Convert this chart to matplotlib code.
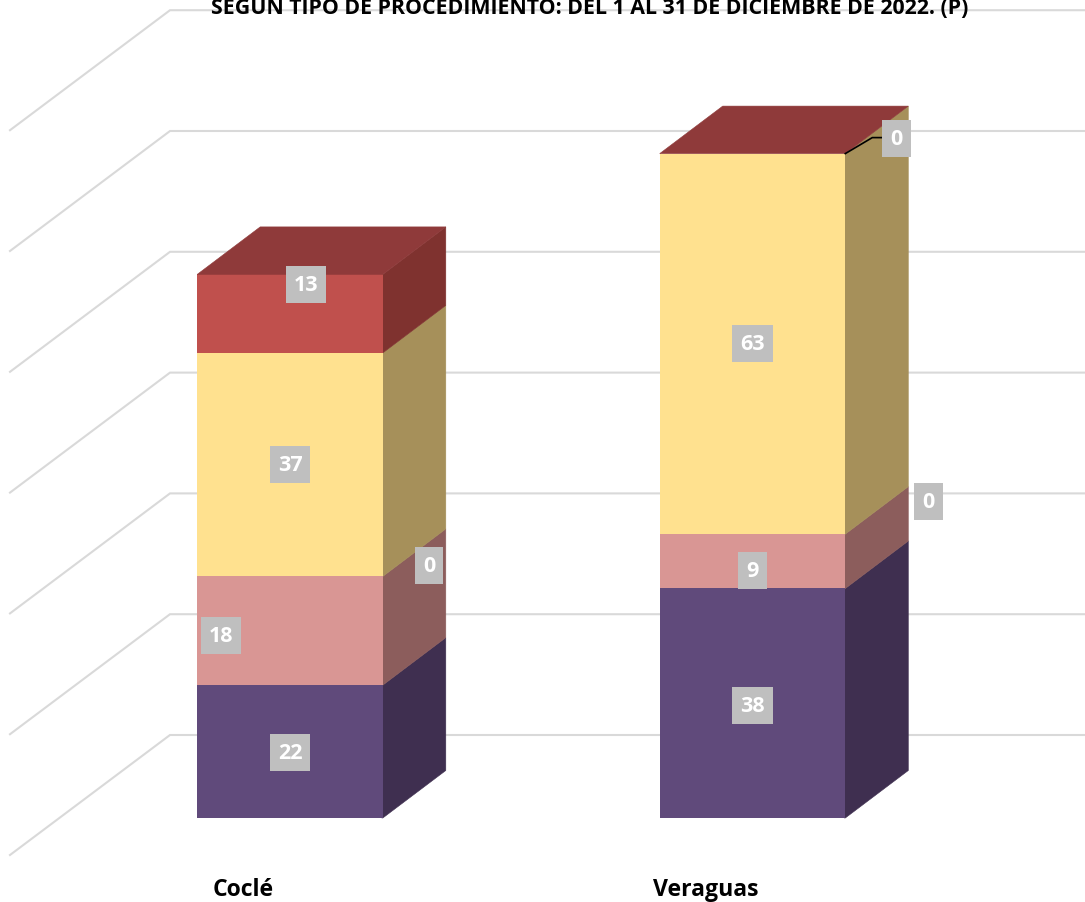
import numpy as np
import matplotlib
matplotlib.use('Agg')
import matplotlib.pyplot as plt

# Data
categories = ['Coclé', 'Veraguas']
serie_1 = [22, 38]
serie_2 = [18, 9]
serie_3 = [0, 0]
serie_4 = [37, 63]
serie_5 = [13, 0]
grid_values = [0, 20, 40, 60, 80, 100, 120]
title_text = 'SEGÚN TIPO DE PROCEDIMIENTO: DEL 1 AL 31 DE DICIEMBRE DE 2022. (P)'

series = [serie_1, serie_2, serie_3, serie_4, serie_5]
front_colors = ['#604A7B', '#D99694', '#D99694', '#FFE18F', '#C0504D']
side_colors = ['#3F2F50', '#8C5D5C', '#8C5D5C', '#A6905A', '#7F322F']
top_color = '#8F3A3A'

W, H = 1085, 903
PX_X = 462.5   # pixels per category step
PX_Y = 6.04    # pixels per value unit
X0 = 290       # pixel of first bar centre
Y0 = 819       # pixel of the value 0 on the front of the bars

BAR_W = 185.6 / PX_X
DEPTH_X = 63 / PX_X
DEPTH_Y = 47.5 / PX_Y

plt.rcParams['font.family'] = ['Open Sans', 'DejaVu Sans']

fig = plt.figure(figsize=(W / 100, H / 100), dpi=100)
ax = fig.add_axes([0, 0, 1, 1])
ax.set_xlim(-X0 / PX_X, (W - X0) / PX_X)
ax.set_ylim((Y0 - H) / PX_Y, Y0 / PX_Y)
ax.axis('off')

# Back wall and side wall grid lines
wall_y = (Y0 - 736) / PX_Y
wall_x = (170 - X0) / PX_X
slant_x = -160 / PX_X
slant_y = -120 / PX_Y
for g in grid_values:
    ax.plot([wall_x + slant_x, wall_x, ax.get_xlim()[1]],
            [g + wall_y + slant_y, g + wall_y, g + wall_y],
            color='#D9D9D9', lw=1.5, zorder=1, solid_joinstyle='miter')

# Stacked bars with fake 3D sides
x_pos = np.arange(len(categories))
bottom = np.zeros(len(categories))
for vals, fc, sc in zip(series, front_colors, side_colors):
    vals = np.array(vals, dtype=float)
    ax.bar(x_pos, vals, BAR_W, bottom=bottom, color=fc, linewidth=0, zorder=3)
    for x, b, v in zip(x_pos, bottom, vals):
        if v == 0:
            continue
        r = x + BAR_W / 2
        # inner edge sits under the front face so no seam shows
        ax.fill([r - 1 / PX_X, r, r + DEPTH_X, r + DEPTH_X, r, r - 1 / PX_X],
                [b, b, b + DEPTH_Y, b + v + DEPTH_Y, b + v, b + v],
                color=sc, lw=0.4, zorder=2)
    bottom = bottom + vals

# Top faces
for x, t in zip(x_pos, bottom):
    l, r = x - BAR_W / 2, x + BAR_W / 2
    ax.fill([l, r, r + DEPTH_X, l + DEPTH_X],
            [t, t, t + DEPTH_Y, t + DEPTH_Y],
            color=top_color, lw=0.4, zorder=4)

# Data labels: (bar, serie) -> offset in pixels from the centre of the segment
offsets = {
    (0, 0): (0, -1),
    (0, 1): (-69, -5),
    (0, 2): (139, 11),
    (0, 4): (16, 29),
    (1, 0): (0, -2),
    (1, 1): (0, -9),
    (1, 2): (176, 33),
    (1, 4): (144, 15),
}
bottom = np.zeros(len(categories))
for s, vals in enumerate(series):
    for c, v in enumerate(vals):
        if v == 0 and (c, s) not in offsets:
            continue
        mid = bottom[c] + v / 2
        ax.annotate(str(v), xy=(x_pos[c], mid), xytext=offsets.get((c, s), (0, 0)),
                    textcoords='offset pixels', ha='center', va='center',
                    color='white', fontsize=15.5, fontweight='bold', zorder=6,
                    bbox=dict(boxstyle='square,pad=0.37', fc='#BFBFBF', ec='none'))
    bottom = bottom + np.array(vals, dtype=float)

# Leader line for the top zero on Veraguas
r = x_pos[1] + BAR_W / 2
t = bottom[1]
ax.plot([r, r + 27 / PX_X, r + 38 / PX_X], [t, t + 16 / PX_Y, t + 16 / PX_Y],
        color='black', lw=1.2, zorder=5)

# Category labels
for x, name in zip(x_pos, categories):
    ax.text(x - 47 / PX_X, -71 / PX_Y, name, ha='center', va='center',
            fontsize=16.6, fontweight='bold', color='black', zorder=6)

# Title, cut by the top of the picture as in the reference
fig.text(589.5 / W, 1 - 14 / H, title_text, ha='center', va='baseline',
         fontsize=15.4, fontweight='bold', color='black')

fig.savefig('out.png', dpi=100)
plt.close(fig)
